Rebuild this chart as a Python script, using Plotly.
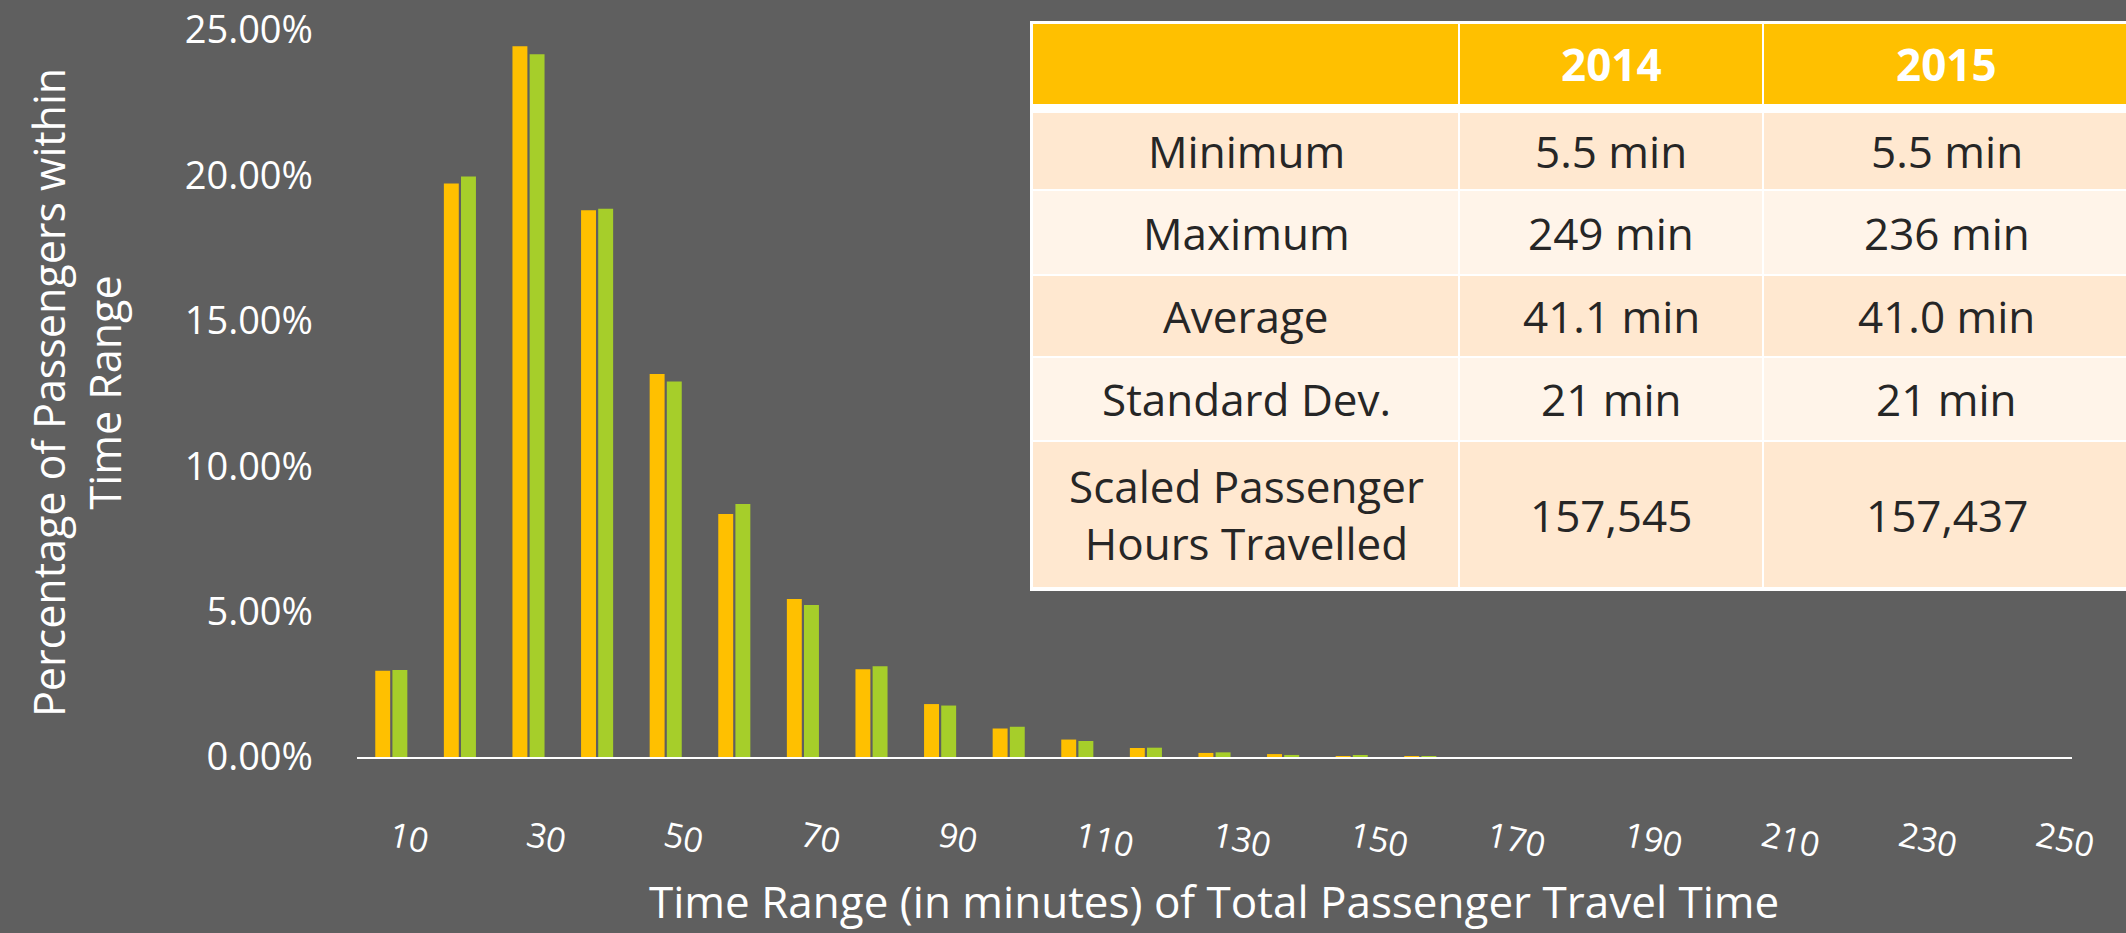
import plotly.graph_objects as go

# Travel-time bins (minutes) and share of passengers in each bin
time_bins = [10, 20, 30, 40, 50, 60, 70, 80, 90, 100, 110, 120, 130,
             140, 150, 160, 170, 180, 190, 200, 210, 220, 230, 240, 250]
share_2014 = [2.97, 19.72, 24.44, 18.80, 13.17, 8.36, 5.43, 3.02, 1.82, 0.98,
              0.60, 0.31, 0.14, 0.10, 0.03, 0.01, 0, 0, 0, 0, 0, 0, 0, 0, 0]
share_2015 = [2.99, 19.96, 24.17, 18.85, 12.91, 8.70, 5.23, 3.12, 1.77, 1.04,
              0.55, 0.32, 0.16, 0.07, 0.05, 0.01, 0, 0, 0, 0, 0, 0, 0, 0, 0]
x_tick_labels = ["10", "30", "50", "70", "90", "110", "130", "150", "170",
                 "190", "210", "230", "250"]
y_ticks = [0, 5, 10, 15, 20, 25]

# Summary statistics table
table_header = ["", "2014", "2015"]
stat_names = ["Minimum", "Maximum", "Average", "Standard Dev.",
              "Scaled Passenger<br>Hours Travelled"]
stats_2014 = ["5.5 min", "249 min", "41.1 min", "21 min", "157,545"]
stats_2015 = ["5.5 min", "236 min", "41.0 min", "21 min", "157,437"]

W, H = 2126, 933
BG = "#5f5f5f"
ORANGE = "#FFC000"
GREEN = "#A6CE2A"
FONT = "Open Sans"
TEXT_DARK = "#262626"

cats = [str(t) for t in time_bins]

fig = go.Figure()
fig.add_trace(go.Bar(x=cats, y=share_2014, name="2014",
                     marker=dict(color=ORANGE, line=dict(width=0))))
fig.add_trace(go.Bar(x=cats, y=share_2015, name="2015",
                     marker=dict(color=GREEN, line=dict(width=0))))

# ---- table drawn as filled cells with centred text (pixel layout, paper coords) ----
col_edges = [1033, 1459, 1763, 2130]
header_box = (24, 104)
row_boxes = [(112, 190), (190, 275), (275, 357), (357, 441), (441, 588)]
row_fill = ["#FFE8D0", "#FFF4E9", "#FFE8D0", "#FFF4E9", "#FFE8D0"]

def px(x):
    return x / W

def py(y):
    return 1 - y / H

shapes = []
annotations = []
# white backing that forms the grid lines
shapes.append(dict(type="rect", xref="paper", yref="paper", layer="above",
                   x0=px(col_edges[0] - 3), x1=px(W + 5),
                   y0=py(row_boxes[-1][1] + 3), y1=py(header_box[0] - 3),
                   fillcolor="white", line=dict(width=0)))
# header band
for c in range(3):
    shapes.append(dict(type="rect", xref="paper", yref="paper", layer="above",
                       x0=px(col_edges[c] + (1 if c else 0)), x1=px(col_edges[c + 1] - 1),
                       y0=py(header_box[1]), y1=py(header_box[0]),
                       fillcolor=ORANGE, line=dict(width=0)))
    if table_header[c]:
        annotations.append(dict(text="<b>" + table_header[c] + "</b>",
                                x=px((col_edges[c] + min(col_edges[c + 1], W + 10)) / 2),
                                y=py(sum(header_box) / 2),
                                xref="paper", yref="paper", showarrow=False,
                                xanchor="center", yanchor="middle",
                                font=dict(family=FONT, size=44, color="white")))
columns = [stat_names, stats_2014, stats_2015]
for r, (top, bot) in enumerate(row_boxes):
    for c in range(3):
        shapes.append(dict(type="rect", xref="paper", yref="paper", layer="above",
                           x0=px(col_edges[c] + (1 if c else 0)), x1=px(col_edges[c + 1] - 1),
                           y0=py(bot - 1), y1=py(top + 1),
                           fillcolor=row_fill[r], line=dict(width=0)))
        annotations.append(dict(text=columns[c][r],
                                x=px((col_edges[c] + min(col_edges[c + 1], W + 10)) / 2),
                                y=py((top + bot) / 2),
                                xref="paper", yref="paper", showarrow=False,
                                xanchor="center", yanchor="middle",
                                font=dict(family=FONT, size=44, color=TEXT_DARK)))

x0, x1 = 357, 2072
y_top, y_base = 30, 757

annotations += [
    dict(text="Percentage of Passengers within<br>Time Range",
         x=px(76), y=py(393), xref="paper", yref="paper",
         textangle=-90, showarrow=False, xanchor="center", yanchor="middle",
         font=dict(family=FONT, size=43, color="white")),
    dict(text="Time Range (in minutes) of Total Passenger Travel Time",
         x=px(1214), y=py(901), xref="paper", yref="paper",
         showarrow=False, xanchor="center", yanchor="middle",
         font=dict(family=FONT, size=44, color="white")),
]

fig.update_layout(
    width=W, height=H,
    paper_bgcolor=BG, plot_bgcolor=BG,
    margin=dict(l=0, r=0, t=0, b=0),
    barmode="group", bargap=0.5, bargroupgap=0.13,
    showlegend=False,
    font=dict(family=FONT, color="white"),
    xaxis=dict(domain=[px(x0), px(x1)], type="category",
               range=[-0.5, len(cats) - 0.5],
               tickvals=x_tick_labels, ticktext=x_tick_labels,
               tickangle=12, ticks="", ticklabelstandoff=46,
               tickfont=dict(family=FONT, size=34, color="white"),
               showline=True, linecolor="white", linewidth=2,
               showgrid=False, zeroline=False, automargin=False),
    yaxis=dict(domain=[py(y_base), py(y_top)], range=[0, 25],
               tickvals=y_ticks, ticktext=[f"{v:.2f}%" for v in y_ticks],
               ticks="", ticklabelstandoff=43,
               tickfont=dict(family=FONT, size=38, color="white"),
               showline=False, showgrid=False, zeroline=False, automargin=False),
    shapes=shapes,
    annotations=annotations,
)

fig.write_html("out.html")
